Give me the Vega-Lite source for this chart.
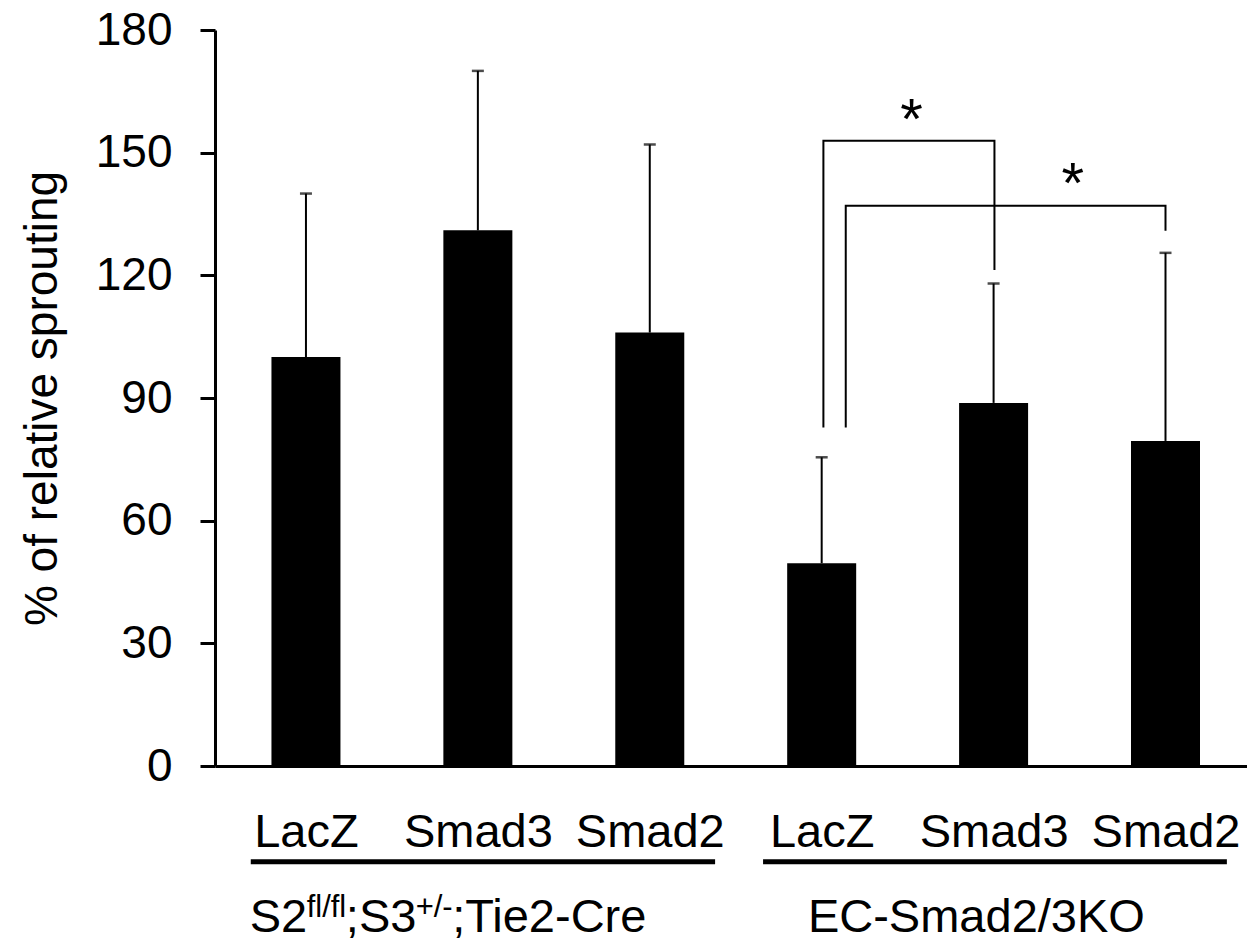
{
  "$schema": "https://vega.github.io/schema/vega-lite/v6.json",
  "width": 1032,
  "height": 736,
  "autosize": {"type": "none"},
  "padding": {"left": 215, "top": 30, "right": 0, "bottom": 183},
  "background": "white",
  "config": {
    "view": {"stroke": null},
    "font": "Liberation Sans",
    "axis": {
      "labelFont": "Liberation Sans",
      "titleFont": "Liberation Sans",
      "labelColor": "black",
      "titleColor": "black",
      "domainColor": "black",
      "tickColor": "black",
      "grid": false
    },
    "text": {"font": "Liberation Sans", "color": "black"}
  },
  "datasets": {
    "bars": [
      {"condition": "LacZ", "pos": 1, "value": 100, "upper": 140},
      {"condition": "Smad3", "pos": 2, "value": 131, "upper": 170},
      {"condition": "Smad2", "pos": 3, "value": 106, "upper": 152},
      {"condition": "LacZ", "pos": 4, "value": 49.6, "upper": 75.5},
      {"condition": "Smad3", "pos": 5, "value": 88.8, "upper": 118},
      {"condition": "Smad2", "pos": 6, "value": 79.5, "upper": 125.5}
    ],
    "brackets": [
      {"b": "A", "i": 0, "x": 4.01, "y": 82.8},
      {"b": "A", "i": 1, "x": 4.01, "y": 152.9},
      {"b": "A", "i": 2, "x": 5.005, "y": 152.9},
      {"b": "A", "i": 3, "x": 5.005, "y": 121.3},
      {"b": "B", "i": 0, "x": 4.14, "y": 82.8},
      {"b": "B", "i": 1, "x": 4.14, "y": 137.0},
      {"b": "B", "i": 2, "x": 6.0, "y": 137.0},
      {"b": "B", "i": 3, "x": 6.0, "y": 130.9}
    ],
    "stars": [
      {"x": 4.523, "y": 153.4, "t": "*"},
      {"x": 5.46, "y": 137.7, "t": "*"}
    ],
    "groups": [
      {"group": "S2fl/fl;S3+/-;Tie2-Cre", "start": 0.679, "end": 3.38},
      {"group": "EC-Smad2/3KO", "start": 3.659, "end": 6.357}
    ],
    "pieces": [
      {"t": "S2", "x": 0.673, "sup": "no"},
      {"t": "fl/fl", "x": 1.004, "sup": "yes"},
      {"t": ";S3", "x": 1.232, "sup": "no"},
      {"t": "+/-", "x": 1.638, "sup": "yes"},
      {"t": ";Tie2-Cre", "x": 1.851, "sup": "no"}
    ],
    "group2": [
      {"t": "EC-Smad2/3KO", "x": 4.9}
    ]
  },
  "layer": [
    {
      "data": {"name": "bars"},
      "mark": {"type": "bar", "color": "black", "width": 69},
      "encoding": {
        "x": {
          "field": "pos", "type": "quantitative",
          "scale": {"domain": [0.5, 6.445], "nice": false, "zero": false},
          "axis": {
            "title": null,
            "values": [1, 2, 3, 4, 5, 6],
            "labelExpr": "['', 'LacZ', 'Smad3', 'Smad2', 'LacZ', 'Smad3', 'Smad2'][datum.value]",
            "ticks": false,
            "tickSize": 0,
            "labelPadding": 43,
            "labelFontSize": 47,
            "labelFlush": false,
            "labelOverlap": false,
            "labelBound": false,
            "domainWidth": 3
          }
        },
        "y": {
          "field": "value", "type": "quantitative",
          "scale": {"domain": [0, 180], "nice": false},
          "axis": {
            "title": "% of relative sprouting",
            "values": [0, 30, 60, 90, 120, 150, 180],
            "tickSize": 15,
            "tickWidth": 3,
            "domainWidth": 3,
            "labelPadding": 28,
            "labelFontSize": 46,
            "titleFontSize": 46,
            "titleFontWeight": "normal",
            "titlePadding": 29
          }
        }
      }
    },
    {
      "data": {"name": "bars"},
      "mark": {"type": "rule", "color": "black", "strokeWidth": 2},
      "encoding": {
        "x": {"field": "pos", "type": "quantitative"},
        "y": {"field": "value", "type": "quantitative"},
        "y2": {"field": "upper"}
      }
    },
    {
      "data": {"name": "bars"},
      "mark": {"type": "tick", "color": "black", "orient": "horizontal", "size": 12, "thickness": 2.5},
      "encoding": {
        "x": {"field": "pos", "type": "quantitative"},
        "y": {"field": "upper", "type": "quantitative"}
      }
    },
    {
      "data": {"name": "brackets"},
      "mark": {"type": "line", "color": "black", "strokeWidth": 2, "strokeJoin": "miter", "strokeCap": "butt"},
      "encoding": {
        "x": {"field": "x", "type": "quantitative"},
        "y": {"field": "y", "type": "quantitative"},
        "detail": {"field": "b"},
        "order": {"field": "i"}
      }
    },
    {
      "data": {"name": "stars"},
      "mark": {"type": "text", "fontSize": 58, "align": "center", "baseline": "alphabetic"},
      "encoding": {
        "x": {"field": "x", "type": "quantitative"},
        "y": {"field": "y", "type": "quantitative"},
        "text": {"field": "t"}
      }
    },
    {
      "data": {"name": "groups"},
      "mark": {"type": "rule", "color": "black", "strokeWidth": 5},
      "encoding": {
        "x": {"field": "start", "type": "quantitative"},
        "x2": {"field": "end"},
        "y": {"datum": -23.4, "type": "quantitative"}
      }
    },
    {
      "data": {"name": "pieces"},
      "transform": [{"filter": "datum.sup == 'no'"}],
      "mark": {"type": "text", "fontSize": 47, "align": "left", "baseline": "alphabetic"},
      "encoding": {
        "x": {"field": "x", "type": "quantitative"},
        "y": {"datum": -40.7, "type": "quantitative"},
        "text": {"field": "t"}
      }
    },
    {
      "data": {"name": "pieces"},
      "transform": [{"filter": "datum.sup == 'yes'"}],
      "mark": {"type": "text", "fontSize": 31, "align": "left", "baseline": "alphabetic"},
      "encoding": {
        "x": {"field": "x", "type": "quantitative"},
        "y": {"datum": -36.9, "type": "quantitative"},
        "text": {"field": "t"}
      }
    },
    {
      "data": {"name": "group2"},
      "mark": {"type": "text", "fontSize": 47, "align": "center", "baseline": "alphabetic"},
      "encoding": {
        "x": {"field": "x", "type": "quantitative"},
        "y": {"datum": -40.7, "type": "quantitative"},
        "text": {"field": "t"}
      }
    }
  ]
}
